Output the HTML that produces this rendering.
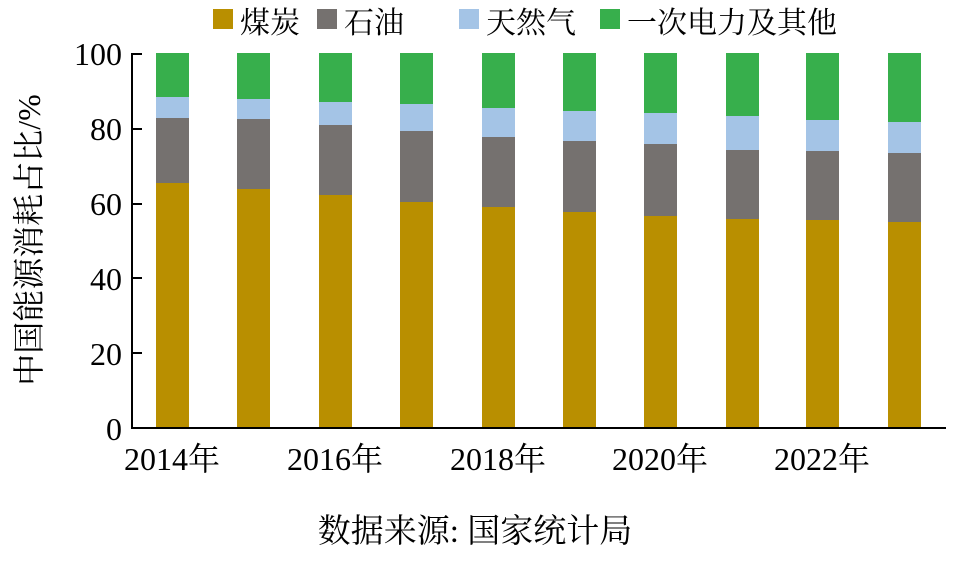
<!DOCTYPE html>
<html><head><meta charset="utf-8"><style>
body{margin:0;background:#fff}
svg text{font-family:"Liberation Serif","Noto Serif CJK SC","Noto Sans CJK SC",serif;fill:#000}
</style></head><body>
<svg width="961" height="563" viewBox="0 0 961 563" xmlns="http://www.w3.org/2000/svg">
<g font-size="30">
<rect x="213" y="9" width="20" height="20" fill="#b98f00"/><text x="240" y="33">煤炭</text>
<rect x="317" y="9" width="20" height="20" fill="#75716f"/><text x="344" y="33">石油</text>
<rect x="459" y="9" width="20" height="20" fill="#a4c4e6"/><text x="486" y="33">天然气</text>
<rect x="600" y="9" width="20" height="20" fill="#37af4c"/><text x="627" y="33">一次电力及其他</text>
</g>
<g fill="#37af4c">
<rect x="156" y="53" width="33" height="44"/><rect x="237" y="53" width="33" height="46"/><rect x="319" y="53" width="33" height="49"/><rect x="400" y="53" width="33" height="51"/><rect x="482" y="53" width="33" height="55"/><rect x="563" y="53" width="33" height="58"/><rect x="644" y="53" width="33" height="60"/><rect x="726" y="53" width="33" height="63"/><rect x="806" y="53" width="33" height="67"/><rect x="888" y="53" width="33" height="69"/>
</g>
<g fill="#a4c4e6">
<rect x="156" y="97" width="33" height="21"/><rect x="237" y="99" width="33" height="20"/><rect x="319" y="102" width="33" height="23"/><rect x="400" y="104" width="33" height="27"/><rect x="482" y="108" width="33" height="29"/><rect x="563" y="111" width="33" height="30"/><rect x="644" y="113" width="33" height="31"/><rect x="726" y="116" width="33" height="34"/><rect x="806" y="120" width="33" height="31"/><rect x="888" y="122" width="33" height="31"/>
</g>
<g fill="#75716f">
<rect x="156" y="118" width="33" height="65"/><rect x="237" y="119" width="33" height="70"/><rect x="319" y="125" width="33" height="70"/><rect x="400" y="131" width="33" height="71"/><rect x="482" y="137" width="33" height="70"/><rect x="563" y="141" width="33" height="71"/><rect x="644" y="144" width="33" height="72"/><rect x="726" y="150" width="33" height="69"/><rect x="806" y="151" width="33" height="69"/><rect x="888" y="153" width="33" height="69"/>
</g>
<g fill="#b98f00">
<rect x="156" y="183" width="33" height="245"/><rect x="237" y="189" width="33" height="239"/><rect x="319" y="195" width="33" height="233"/><rect x="400" y="202" width="33" height="226"/><rect x="482" y="207" width="33" height="221"/><rect x="563" y="212" width="33" height="216"/><rect x="644" y="216" width="33" height="212"/><rect x="726" y="219" width="33" height="209"/><rect x="806" y="220" width="33" height="208"/><rect x="888" y="222" width="33" height="206"/>
</g>
<g stroke="#000" stroke-width="2" fill="none">
<path d="M132 53 V428 H946"/>
<path d="M132 54 H142 M132 129 H142 M132 204 H142 M132 278 H142 M132 353 H142"/>
</g>
<g font-size="32" text-anchor="end">
<text x="122" y="65">100</text><text x="122" y="140">80</text><text x="122" y="215">60</text><text x="122" y="290">40</text><text x="122" y="365">20</text><text x="122" y="440">0</text>
</g>
<g font-size="32" text-anchor="middle">
<text x="172" y="470">2014年</text><text x="335" y="470">2016年</text><text x="498" y="470">2018年</text><text x="660" y="470">2020年</text><text x="822" y="470">2022年</text>
</g>
<text font-size="32" text-anchor="middle" transform="translate(40,240) rotate(-90)">中国能源消耗占比/%</text>
<text font-size="33" x="475" y="542" text-anchor="middle">数据来源: 国家统计局</text>
</svg>
</body></html>
